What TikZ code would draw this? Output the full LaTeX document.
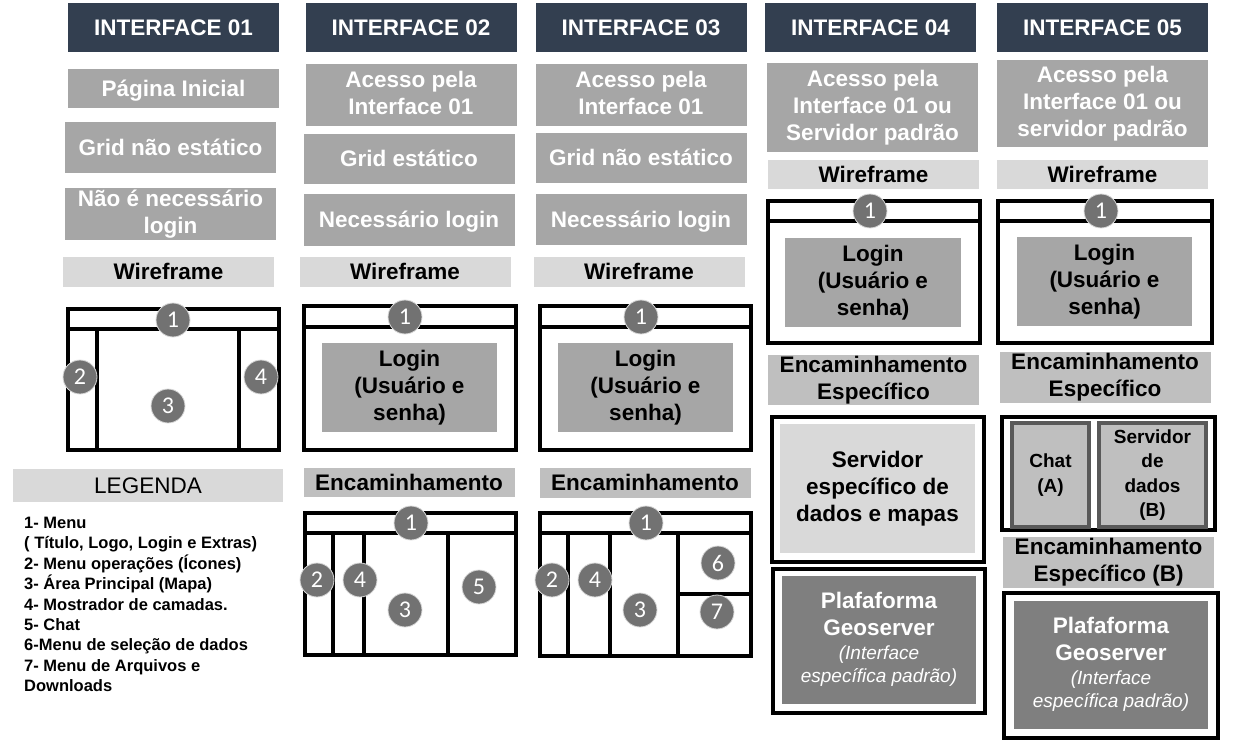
\documentclass[tikz,border=0pt]{standalone}
\usepackage{fontspec}
\setmainfont{Liberation Sans}
\newfontfamily\digitfont{Carlito}
\definecolor{navy}{HTML}{333F50}
\definecolor{cellgray}{HTML}{A6A6A6}
\definecolor{wiregray}{HTML}{D9D9D9}
\definecolor{routegray}{HTML}{BFBFBF}
\definecolor{badgegray}{HTML}{727272}
\definecolor{darkcell}{HTML}{7F7F7F}
\definecolor{edgegray}{HTML}{595959}
\tikzset{
  cell/.style={inner sep=0pt, align=center, minimum width=211,
    font=\bfseries\fontsize{22.5}{27}\selectfont,
    execute at begin node={\rule{0pt}{0.905em}},
    execute at end node={\rule[-0.212em]{0pt}{0.212em}}},
  hdr/.style={cell, fill=navy, text=white, minimum height=49},
  info/.style={cell, fill=cellgray, text=white},
  wire/.style={cell, fill=wiregray, minimum height=30},
  route/.style={cell, fill=routegray},
  login/.style={cell, fill=cellgray, minimum width=175, minimum height=89},
  frame/.style={draw=black, line width=3.2pt},
  badge/.style={circle, fill=badgegray, draw=wiregray, line width=0.8pt,
    minimum size=34, inner sep=0pt, text=white,
    font=\digitfont\fontsize{24}{24}\selectfont},
  small/.style={cell, fill=routegray, draw=edgegray, line width=3.2pt,
    minimum height=104, font=\bfseries\fontsize{19}{24.5}\selectfont},
  legtext/.style={inner sep=0pt, align=left,
    font=\bfseries\fontsize{16.5}{20.4}\selectfont}
}
\begin{document}
\begin{tikzpicture}[x=1pt,y=-1pt]
  \useasboundingbox (0,0) rectangle (1244,746);
  % headers
  \foreach \x/\y/\n in {173.5/27.5/01, 411/27.5/02, 641/27.5/03, 870.5/27.5/04, 1102.5/28/05}
    \node[hdr] (h\n) at (\x,\y) {INTERFACE \n};
  % interface 01
  \node[info, minimum height=39] (ini) at (173.5,88.5) {Página Inicial};
  \node[info, minimum height=51] (grid1) at (170.5,147.5) {Grid não estático};
  \node[info, minimum height=52] (nolog) at (170.5,214) {Não é necessário\\login};
  \node[wire] (wf1) at (168.5,272) {Wireframe};
  \draw[frame] (68,309) rectangle (279,450);
  \draw[frame] (68,329) -- (279,329) (97,329) -- (97,450) (239,329) -- (239,450);
  \node[cell, fill=wiregray, minimum width=270, minimum height=33,
    font=\fontsize{22.5}{27}\selectfont] (leg) at (148,485.5) {LEGENDA};
  \node[legtext, anchor=north west] (legtxt) at (24,517) {1- Menu\\( Título, Logo, Login e Extras)\\2- Menu operações (Ícones)\\3- Área Principal (Mapa)\\4- Mostrador de camadas.\\5- Chat\\6-Menu de seleção de dados\\7- Menu de Arquivos e\\Downloads};
  % interface 02
  \node[info, minimum height=62] (ac2) at (411,95) {Acesso pela\\Interface 01};
  \node[info, minimum height=50] (grid2) at (409,159) {Grid estático};
  \node[info, minimum height=52] (log2) at (409,220) {Necessário login};
  \node[wire] (wf2) at (405,272) {Wireframe};
  \draw[frame] (304,306) rectangle (516,450) (304,327) -- (516,327);
  \node[login] (lg2) at (409.5,387.5) {Login\\(Usuário e\\senha)};
  \node[route, minimum height=29] (enc2) at (409,482.5) {Encaminhamento};
  \draw[frame] (305,513) rectangle (516,655) (305,533) -- (516,533);
  \draw[frame] (333,533) -- (333,655) (364,533) -- (364,655) (448,533) -- (448,655);
  % interface 03
  \node[info, minimum height=62] (ac3) at (641,95) {Acesso pela\\Interface 01};
  \node[info, minimum height=50] (grid3) at (641,158) {Grid não estático};
  \node[info, minimum height=51] (log3) at (641,219.5) {Necessário login};
  \node[wire] (wf3) at (639,272) {Wireframe};
  \draw[frame] (540,306) rectangle (751,450) (540,327) -- (751,327);
  \node[login] (lg3) at (645.5,387.5) {Login\\(Usuário e\\senha)};
  \node[route, minimum height=30] (enc3) at (645,483) {Encaminhamento};
  \draw[frame] (540,513) rectangle (751,656) (540,533) -- (751,533);
  \draw[frame] (568,533) -- (568,656) (610,533) -- (610,656) (678,533) -- (678,656) (678,594) -- (751,594);
  % interface 04
  \node[info, minimum height=89] (ac4) at (872.5,107.5) {Acesso pela\\Interface 01 ou\\Servidor padrão};
  \node[wire, minimum height=29] (wf4) at (873.5,174.5) {Wireframe};
  \draw[frame] (768,201) rectangle (980,343) (768,221) -- (980,221);
  \node[login, minimum width=176] (lg4) at (873,282.5) {Login\\(Usuário e\\senha)};
  \node[route, minimum height=50] (enc4) at (873.5,380) {Encaminhamento\\Específico};
  \draw[frame] (772,417) rectangle (984,562);
  \node[cell, fill=wiregray, minimum width=195, minimum height=129] (srv4) at (877.5,488.5) {Servidor\\específico de\\dados e mapas};
  \draw[frame] (773,569) rectangle (985,713);
  \node[cell, fill=darkcell, text=white, minimum width=194, minimum height=128] (geo4) at (879,640)
    {Plafaforma\\Geoserver\\[-3pt]{\mdseries\itshape\fontsize{19}{23}\selectfont (Interface}\\[-4pt]{\mdseries\itshape\fontsize{19}{23}\selectfont específica padrão)}};
  % interface 05
  \node[info, minimum height=87] (ac5) at (1102.5,103.5) {Acesso pela\\Interface 01 ou\\servidor padrão};
  \node[wire, minimum height=29] (wf5) at (1102.5,174.5) {Wireframe};
  \draw[frame] (998,201) rectangle (1212,343) (998,221) -- (1212,221);
  \node[login] (lg5) at (1104.5,281.5) {Login\\(Usuário e\\senha)};
  \node[route, minimum height=51] (enc5) at (1105,377.5) {Encaminhamento\\Específico};
  \draw[frame] (1002,417) rectangle (1215,530);
  \node[small, minimum width=77] (chat) at (1050.5,475) {Chat\\(A)};
  \node[small, minimum width=107] (dados) at (1152.5,475) {Servidor\\de\\dados\\(B)};
  \node[route, minimum height=51] (enc5b) at (1108.5,562.5) {Encaminhamento\\Específico (B)};
  \draw[frame] (1004,593) rectangle (1218,738);
  \node[cell, fill=darkcell, text=white, minimum width=194, minimum height=128] (geo5) at (1111,665)
    {Plafaforma\\Geoserver\\[-3pt]{\mdseries\itshape\fontsize{19}{23}\selectfont (Interface}\\[-4pt]{\mdseries\itshape\fontsize{19}{23}\selectfont específica padrão)}};
  % numbered markers
  \foreach \x/\y/\k [count=\i] in {173/320/1, 80/377/2, 261/377/4, 168/406/3,
      405/317/1, 411/523/1, 317/580/2, 360/580/4, 405/610/3, 479/587/5,
      641/317/1, 646/523/1, 552/580/2, 595/580/4, 640/610/3, 718/563/6, 717/612/7,
      870/211/1, 1101/211/1}
    \node[badge] (b\i) at (\x,\y) {\k};
\end{tikzpicture}
\end{document}
